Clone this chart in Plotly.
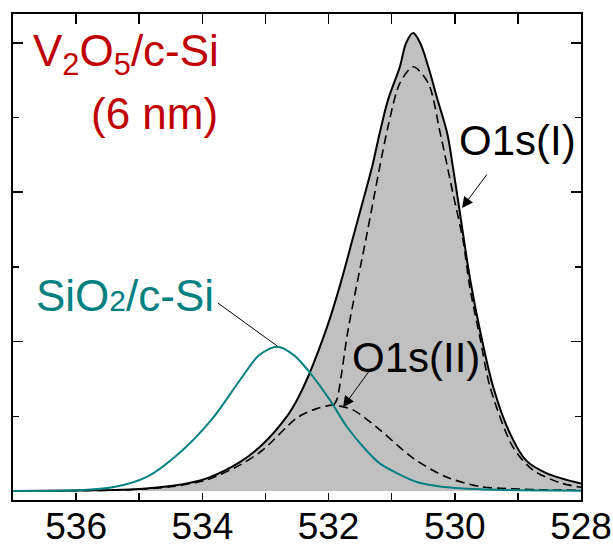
import plotly.graph_objects as go

# ---- data (binding energy in eV, intensity in arb. units) ----
env_E = [537.0, 536.0, 535.15, 534.47, 533.93, 533.40, 533.04, 532.66, 532.50, 532.33, 532.03, 531.82,
         531.61, 531.45, 531.31, 531.19, 531.06, 530.87, 530.77, 530.66, 530.55, 530.42, 530.27,
         530.12, 530.03, 529.95, 529.87, 529.76, 529.60, 529.39, 529.13, 528.87, 528.55, 528.0]
env_v = [0.0, 0.008, 0.02, 0.07, 0.17, 0.39, 0.63, 1.00, 1.22, 1.52, 2.18, 2.75,
         3.40, 3.90, 4.34, 4.79, 5.23, 5.68, 6.00, 6.13, 6.00, 5.68, 5.23,
         4.79, 4.34, 3.90, 3.45, 2.85, 2.15, 1.39, 0.78, 0.41, 0.24, 0.10]

o1s_I_E = [531.92, 531.87, 531.69, 531.39, 531.06, 530.87, 530.66, 530.42, 530.23, 530.03,
           529.87, 529.76, 529.60, 529.44, 529.08, 528.76, 528.33, 528.0]
o1s_I_v = [1.15, 1.22, 2.16, 3.45, 4.87, 5.46, 5.68, 5.46, 4.79, 3.99,
           3.36, 2.72, 2.05, 1.39, 0.59, 0.28, 0.11, 0.05]

o1s_II_E = [537.0, 536.0, 535.15, 534.47, 533.93, 533.40, 533.04, 532.50, 532.20, 531.93,
            531.60, 531.19, 530.66, 530.14, 529.60, 529.10, 528.50, 528.0]
o1s_II_v = [0.0, 0.005, 0.018, 0.06, 0.15, 0.35, 0.55, 0.98, 1.10, 1.15,
            1.08, 0.82, 0.44, 0.19, 0.06, 0.03, 0.015, 0.01]

sio2_E = [537.0, 535.94, 535.42, 534.88, 534.35, 533.83, 533.40, 533.10, 532.82, 532.55,
          532.29, 531.98, 531.71, 531.45, 531.19, 530.92, 530.60, 530.39, 530.0, 529.5, 529.0, 528.0]
sio2_v = [0.0, 0.01, 0.05, 0.19, 0.52, 0.98, 1.49, 1.82, 1.93, 1.82,
          1.58, 1.22, 0.86, 0.59, 0.37, 0.24, 0.12, 0.08, 0.04, 0.02, 0.01, 0.005]

x_major = [536, 534, 532, 530, 528]
x_minor = [535, 533, 531, 529]
x_top = [536, 535, 534, 533, 532, 531, 530, 529]
y_major = [2, 4, 6]
y_minor = [1, 3, 5]

TEAL = "rgb(0,128,128)"
RED = "rgb(192,0,0)"
FONT = "Arial, Liberation Sans, sans-serif"

fig = go.Figure()
fig.add_trace(go.Scatter(x=env_E, y=env_v, mode="lines", fill="tozeroy",
                         fillcolor="rgb(192,192,192)",
                         line=dict(color="black", width=2, shape="spline", smoothing=1.0)))
fig.add_trace(go.Scatter(x=o1s_II_E, y=o1s_II_v, mode="lines",
                         line=dict(color="black", width=1.6, dash="9px,5px", shape="spline", smoothing=0.8)))
fig.add_trace(go.Scatter(x=o1s_I_E, y=o1s_I_v, mode="lines",
                         line=dict(color="black", width=1.6, dash="9px,5px", shape="spline", smoothing=0.8)))
fig.add_trace(go.Scatter(x=sio2_E, y=sio2_v, mode="lines",
                         line=dict(color=TEAL, width=2, shape="spline", smoothing=0.8)))
# dummy trace to activate top axis
fig.add_trace(go.Scatter(x=[532], y=[0], xaxis="x2", mode="markers",
                         marker=dict(opacity=0), hoverinfo="skip"))

fig.update_layout(
    width=613, height=544,
    margin=dict(l=13, r=32, t=14, b=44, autoexpand=False),
    paper_bgcolor="white", plot_bgcolor="white",
    showlegend=False,
    font=dict(family=FONT, color="black"),
    xaxis=dict(range=[537.0, 528.0], showgrid=False, zeroline=False, automargin=False,
               showline=True, linecolor="black", linewidth=2,
               tickmode="array", tickvals=x_major, ticks="inside", ticklen=7,
               tickwidth=1.5, tickcolor="black", ticklabelstandoff=-7,
               tickfont=dict(size=37, family=FONT, color="black"),
               minor=dict(tickmode="array", tickvals=x_minor, ticks="inside",
                          ticklen=7, tickwidth=1.5, tickcolor="black", showgrid=False)),
    xaxis2=dict(range=[537.0, 528.0], overlaying="x", side="top", showgrid=False,
                zeroline=False, showline=True, linecolor="black", linewidth=2, automargin=False,
                tickmode="array", tickvals=x_top, ticks="inside", ticklen=10,
                tickwidth=1.5, tickcolor="black", showticklabels=False),
    yaxis=dict(range=[-0.12, 6.386], showgrid=False, zeroline=False, automargin=False,
               showline=True, linecolor="black", linewidth=2, mirror="ticks",
               tickmode="array", tickvals=y_major, ticks="inside", ticklen=10,
               tickwidth=1.5, tickcolor="black", showticklabels=False,
               minor=dict(tickmode="array", tickvals=y_minor, ticks="inside",
                          ticklen=6, tickwidth=1.5, tickcolor="black", showgrid=False)),
)

ann = [
    dict(text="V<sub>2</sub>O<sub>5</sub>/c-Si", x=0.031, y=0.918, font=dict(size=44, color=RED)),
    dict(text="(6 nm)", x=0.133, y=0.796, font=dict(size=44, color=RED)),
    dict(text="SiO<span style='font-size:30px'>2</span>/c-Si", x=0.037, y=0.42,
         font=dict(size=44, color=TEAL)),
    dict(text="O1s(I)", x=0.781, y=0.74, font=dict(size=42, color="black")),
    dict(text="O1s(II)", x=0.594, y=0.294, font=dict(size=42, color="black")),
]
for a in ann:
    fig.add_annotation(xref="paper", yref="paper", xanchor="left", yanchor="middle",
                       showarrow=False, font_family=FONT, **a)

# arrows
fig.add_annotation(xref="paper", yref="paper", x=0.7905, y=0.6008, ax=26, ay=-35,
                   text="", showarrow=True, arrowhead=2, arrowsize=2.2, arrowwidth=1,
                   arrowcolor="black")
fig.add_annotation(xref="paper", yref="paper", x=0.581, y=0.191, ax=29, ay=-40,
                   text="", showarrow=True, arrowhead=2, arrowsize=2.2, arrowwidth=1,
                   arrowcolor="black")
fig.add_shape(type="line", xref="paper", yref="paper", x0=0.361, y0=0.405, x1=0.465, y1=0.317,
              line=dict(color="black", width=1))

fig.write_html("out.html", config={"displayModeBar": False, "staticPlot": True})

# remove the browser's default body margin so the figure sits at the page origin
with open("out.html", "r", encoding="utf-8") as f:
    html = f.read()
html = html.replace("<head>", "<head><style>html,body{margin:0;padding:0;overflow:hidden;}</style>", 1)
with open("out.html", "w", encoding="utf-8") as f:
    f.write(html)
